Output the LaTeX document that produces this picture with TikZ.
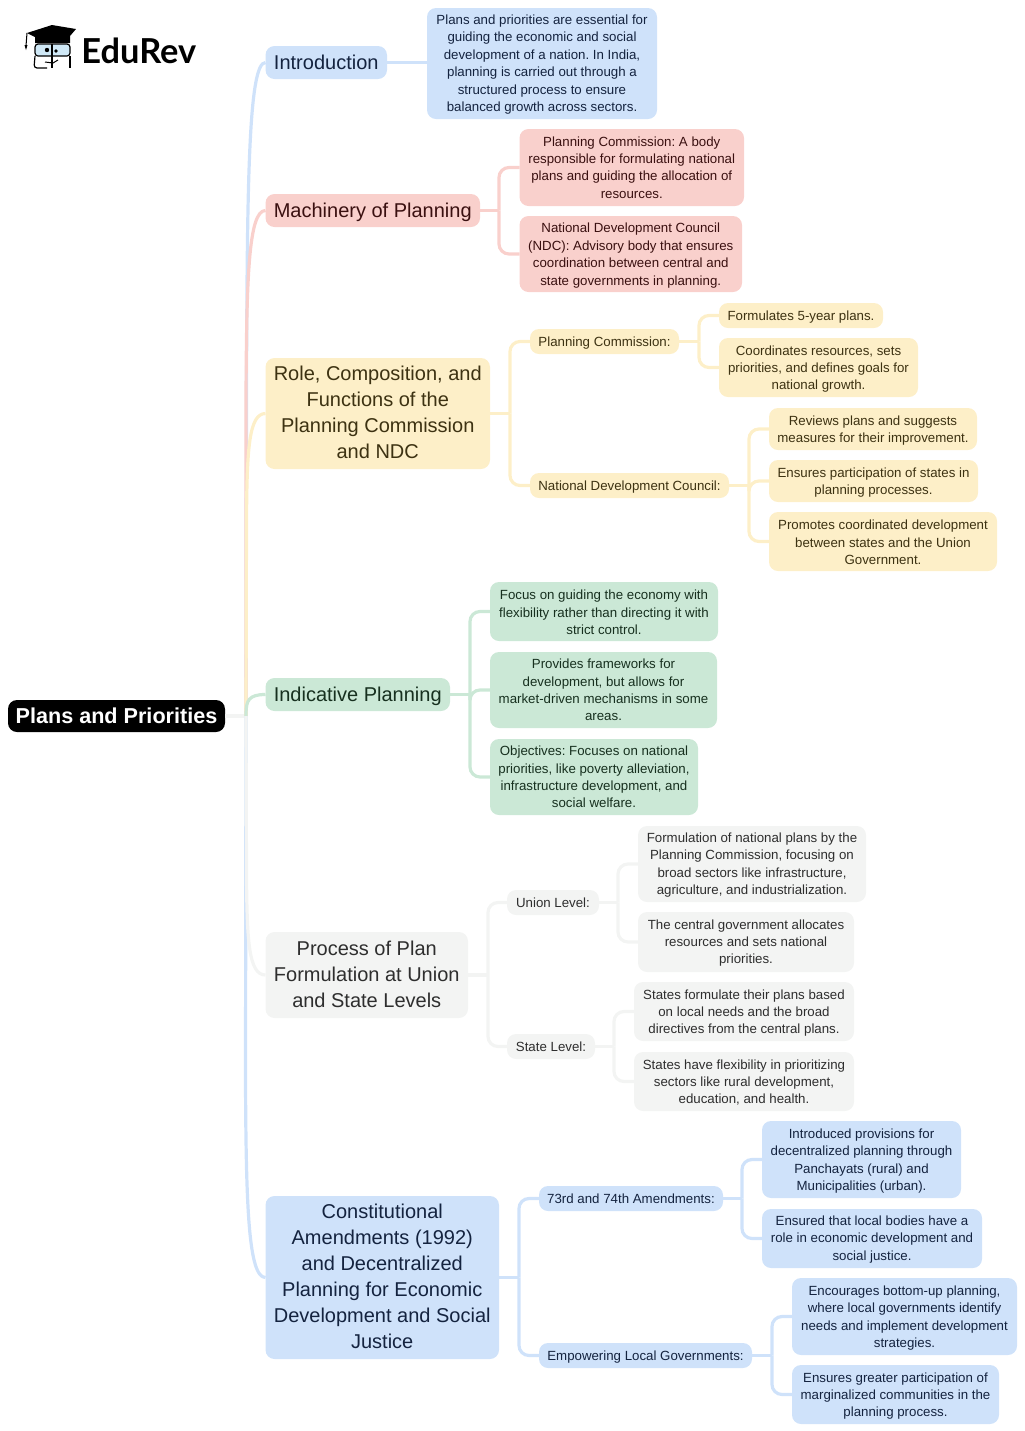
\documentclass[tikz,border=0pt]{standalone}
\usepackage{fontspec}
\usetikzlibrary{calc}
\setmainfont{Liberation Sans}
\newfontfamily\logofont{Lato}
\frenchspacing
\definecolor{cblue}{HTML}{CFE2FA}
\definecolor{cred}{HTML}{F9D0CC}
\definecolor{cyel}{HTML}{FDEFC8}
\definecolor{cgrn}{HTML}{CBE8D6}
\definecolor{cgry}{HTML}{F3F4F3}
\definecolor{cface}{HTML}{CFE8F6}
\definecolor{tblue}{HTML}{14233F}
\definecolor{tred}{HTML}{3A1010}
\definecolor{tyel}{HTML}{3D3212}
\definecolor{tgrn}{HTML}{17301F}
\definecolor{tgry}{HTML}{2E2E2E}
\tikzset{
 x=0.5pt,y=-0.5pt,
 boxb/.style={rounded corners=4.5pt,inner sep=0pt,outer sep=0pt,align=center},
 big/.style={boxb,font=\fontsize{10}{13}\selectfont\frenchspacing},
 small/.style={boxb,font=\fontsize{6.64}{8.7}\selectfont\frenchspacing},
 blue/.style={fill=cblue,text=tblue},
 red/.style={fill=cred,text=tred},
 yel/.style={fill=cyel,text=tyel},
 grn/.style={fill=cgrn,text=tgrn},
 gry/.style={fill=cgry,text=tgry},
 lnblue/.style={draw=cblue,line width=1.6pt,rounded corners=5pt},
 lnred/.style={draw=cred,line width=1.6pt,rounded corners=5pt},
 lnyel/.style={draw=cyel,line width=1.6pt,rounded corners=5pt},
 lngrn/.style={draw=cgrn,line width=1.6pt,rounded corners=5pt},
 lngry/.style={draw=cgry,line width=1.6pt,rounded corners=5pt},
 trunk/.style={line width=1.6pt},
}
% small nudges of text inside its box: a taller first line or a deeper last one
\newcommand{\dnb}{\rule{0pt}{5.8pt}}
\newcommand{\dnc}{\rule{0pt}{6.3pt}}
\newcommand{\dnbig}{\rule{0pt}{8.8pt}}
\newcommand{\upbig}{\rule[-1pt]{0pt}{1pt}}
% name, x1, y1, x2, y2, style, text
\newcommand{\bx}[7]{\node[#6,minimum width=#4*0.5pt-#2*0.5pt,minimum height=#5*0.5pt-#3*0.5pt] (#1) at ({(#2+#4)/2},{(#3+#5)/2}) {#7};}
% style, parent, dx, children
\newcommand{\fan}[4]{\draw[#1] (#2.east) -- ++(#3*0.5pt,0pt);
 \foreach \c in {#4}{\draw[#1] (#2.east) ++(#3*0.5pt,0pt) |- (\c.west);}}
% colour, child, length of the long bend (signed), x offset of its start
\newcommand{\branch}[4]{\draw[trunk,draw=#1] (tj) -- ($(tj |- #2.west)+(#4,#3)$)
 .. controls ($(tj |- #2.west)+(#4+0.5,#3*0.35)$) and ($(tj |- #2.west)+(2.5,0)$) .. (#2.west);}
\begin{document}
\begin{tikzpicture}
\useasboundingbox (0,0) rectangle (1024,1431);
% nodes
\bx{root}{8}{700}{225}{732}{boxb,fill=black,text=white,font=\fontsize{10.8}{13}\selectfont\bfseries}{Plans and Priorities}
\bx{intro}{265.5}{46}{387}{79}{big,blue}{Introduction}
\bx{introa}{427}{8}{657}{119}{small,blue}{\dnb Plans and priorities are essential for\\guiding the economic and social\\development of a nation. In India,\\planning is carried out through a\\structured process to ensure\\balanced growth across sectors.}
\bx{mach}{265.5}{194}{480}{227}{big,red}{\dnbig Machinery of Planning}
\bx{macha}{519.5}{129}{744}{206}{small,red}{Planning Commission: A body\\responsible for formulating national\\plans and guiding the allocation of\\resources.}
\bx{machb}{519.5}{216}{742}{292}{small,red}{\dnc National Development Council\\(NDC): Advisory body that ensures\\coordination between central and\\state governments in planning.}
\bx{role}{265.5}{358}{490}{469}{big,yel}{Role, Composition, and\\Functions of the\\Planning Commission\\and NDC\upbig}
\bx{pc}{530}{329}{679}{354}{small,yel}{\dnc Planning Commission:}
\bx{pca}{719}{303}{883}{328}{small,yel}{\dnc Formulates 5-year plans.}
\bx{pcb}{719}{338}{918}{397}{small,yel}{\dnc Coordinates resources, sets\\priorities, and defines goals for\\national growth.}
\bx{ndc}{530}{473}{729}{498}{small,yel}{\dnc National Development Council:}
\bx{ndca}{769}{408}{977}{450}{small,yel}{\dnc Reviews plans and suggests\\measures for their improvement.}
\bx{ndcb}{769}{460}{978}{502}{small,yel}{\dnc Ensures participation of states in\\planning processes.}
\bx{ndcc}{769}{512}{997}{571}{small,yel}{\dnb Promotes coordinated development\\between states and the Union\\Government.}
\bx{ind}{265.5}{678}{450}{711}{big,grn}{\dnbig Indicative Planning}
\bx{inda}{490}{582}{718}{641}{small,grn}{\dnb Focus on guiding the economy with\\flexibility rather than directing it with\\strict control.}
\bx{indb}{490}{652}{717}{728}{small,grn}{Provides frameworks for\\development, but allows for\\market-driven mechanisms in some\\areas.}
\bx{indc}{490}{739}{698}{815}{small,grn}{Objectives: Focuses on national\\priorities, like poverty alleviation,\\infrastructure development, and\\social welfare.}
\bx{proc}{265.5}{932}{468}{1018}{big,gry}{Process of Plan\\Formulation at Union\\and State Levels\upbig}
\bx{un}{507}{890}{599}{915}{small,gry}{Union Level:}
\bx{una}{638}{826}{866}{902}{small,gry}{\dnb Formulation of national plans by the\\Planning Commission, focusing on\\broad sectors like infrastructure,\\agriculture, and industrialization.}
\bx{unb}{638}{912}{854}{972}{small,gry}{\dnb The central government allocates\\resources and sets national\\priorities.}
\bx{st}{507}{1034}{595}{1059}{small,gry}{State Level:}
\bx{sta}{634}{982}{854}{1041}{small,gry}{\dnc States formulate their plans based\\on local needs and the broad\\directives from the central plans.}
\bx{stb}{634}{1052}{854}{1111}{small,gry}{\dnb States have flexibility in prioritizing\\sectors like rural development,\\education, and health.}
\bx{con}{265.5}{1196}{499}{1359}{big,blue}{Constitutional\\Amendments (1992)\\and Decentralized\\Planning for Economic\\Development and Social\\Justice\upbig}
\bx{am}{539}{1186}{723}{1211}{small,blue}{73rd and 74th Amendments:}
\bx{ama}{762}{1121}{961}{1198}{small,blue}{\dnc Introduced provisions for\\decentralized planning through\\Panchayats (rural) and\\Municipalities (urban).}
\bx{amb}{762}{1209}{982}{1268}{small,blue}{\dnb Ensured that local bodies have a\\role in economic development and\\social justice.}
\bx{emp}{539}{1343}{752}{1368}{small,blue}{\dnc Empowering Local Governments:}
\bx{empa}{792}{1278}{1017}{1355}{small,blue}{\dnc Encourages bottom-up planning,\\where local governments identify\\needs and implement development\\strategies.}
\bx{empb}{792}{1365}{999}{1424}{small,blue}{\dnc Ensures greater participation of\\marginalized communities in the\\planning process.}
% trunk
\coordinate (tj) at (246,716);
\draw[draw=cgry,line width=1.6pt] (root.east) -- (tj);
\branch{cblue}{intro}{340}{0.5}
\branch{cred}{mach}{190}{0}
\branch{cyel}{role}{107}{0.5}
\branch{cgrn}{ind}{18}{0}
\branch{cblue}{con}{-200}{-0.5}
\branch{cgry}{proc}{-100}{0.5}
% fans
\draw[lnblue] (intro.east) -- (intro.east -| introa.west);
\fan{lnred}{mach}{19}{macha,machb}
\fan{lnyel}{role}{20}{pc,ndc}
\fan{lnyel}{pc}{20}{pca,pcb}
\fan{lnyel}{ndc}{20}{ndca,ndcb,ndcc}
\fan{lngrn}{ind}{20}{inda,indb,indc}
\fan{lngry}{proc}{20}{un,st}
\fan{lngry}{un}{19}{una,unb}
\fan{lngry}{st}{19}{sta,stb}
\fan{lnblue}{con}{20}{am,emp}
\fan{lnblue}{am}{19}{ama,amb}
\fan{lnblue}{emp}{20}{empa,empb}
% logo
\node[anchor=west,inner sep=0pt,font=\fontsize{17.2}{20}\selectfont\bfseries\logofont,text=black] (logo) at (81,51) {EduRev};
\fill[black] (27,33) -- (52,25) -- (76,29) -- (70,36) -- (70,43) -- (35,43) -- (35,37) -- cycle;
\draw[black,line width=0.5pt] (27,33) -- (26,46);
\fill[black] (24.5,45) -- (27.5,45) -- (26,50) -- cycle;
\fill[cface,draw=black,line width=0.6pt,rounded corners=1.5pt] (35,44) rectangle (70,56);
\draw[black,line width=0.6pt] (52,44) -- (52,68);
\draw[black,line width=0.6pt,rounded corners=1.5pt] (35,56) -- (34,68) -- (47,68);
\draw[black,line width=0.6pt,rounded corners=1.5pt] (70,56) -- (70,68);
\fill[black] (47,50) circle[radius=2.2];
\fill[black] (56,51) circle[radius=1.8];
\draw[black,line width=0.5pt] (45,62) -- (53,63) -- (58,60);
\end{tikzpicture}
\end{document}
